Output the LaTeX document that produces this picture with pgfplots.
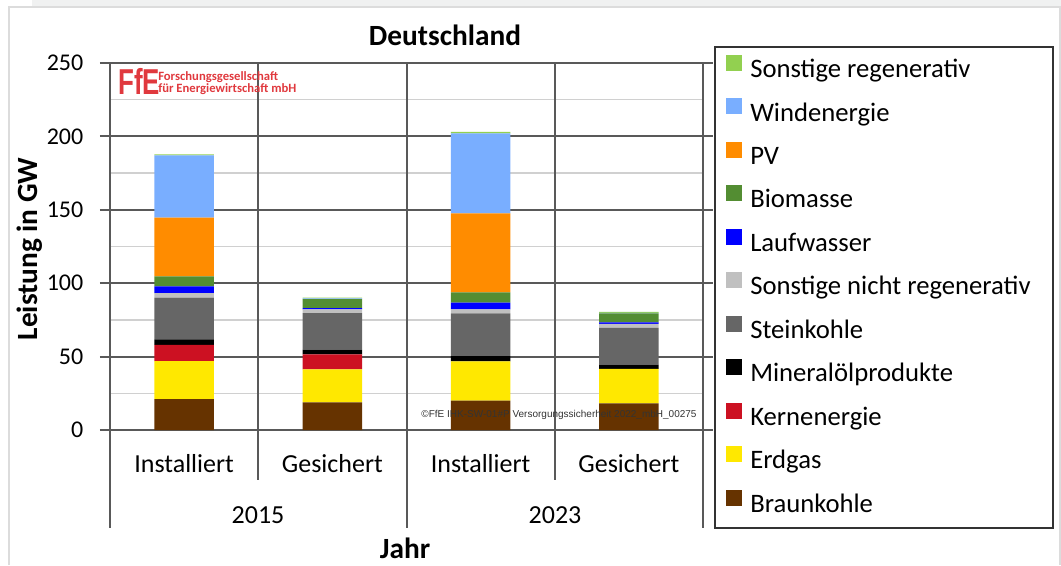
\documentclass[border=0pt]{standalone}
\usepackage{pgfplots}
\pgfplotsset{compat=1.18}
\usepackage{pgfplotstable}
\usepackage{fontspec}
\setmainfont{Carlito}
\newfontfamily\arial{Liberation Sans}

\definecolor{cSonstReg}{HTML}{92D050}
\definecolor{cWind}{HTML}{79AEFF}
\definecolor{cPV}{HTML}{FF8C00}
\definecolor{cBio}{HTML}{538D32}
\definecolor{cLauf}{HTML}{0000FF}
\definecolor{cSonstNicht}{HTML}{C0C0C0}
\definecolor{cStein}{HTML}{666666}
\definecolor{cMineral}{HTML}{000000}
\definecolor{cKern}{HTML}{CC1122}
\definecolor{cErdgas}{HTML}{FFE800}
\definecolor{cBraun}{HTML}{663300}
\definecolor{linegray}{HTML}{595959}
\definecolor{minorgray}{HTML}{D0D0D0}
\definecolor{framegray}{HTML}{DCDCDC}
\definecolor{stripgray}{HTML}{F0F1F1}
\definecolor{ffered}{HTML}{E0393E}

% x: 0 = 2015 installiert, 1 = 2015 gesichert, 2 = 2023 installiert, 3 = 2023 gesichert
\pgfplotstableread{
x braun erdgas kern mineral stein sonstnicht lauf bio pv wind sonstreg
0 21.0 26.0 11.0 3.7 28.4 3.2 4.6 6.7 40.0 42.4 0.8
1 18.8 22.5 10.3 3.2 24.8 2.5 0.9 6.2 0.0 0.5 0.4
2 20.0 26.8 0.0 3.6 29.1 2.7 4.5 7.0 53.9 54.5 1.0
3 18.2 23.4 0.0 3.0 25.0 2.7 1.1 6.1 0.0 0.3 0.7
}\leistung

\pgfplotsset{sq/.style={fill=#1, draw=none,
  legend image code/.code={\fill[#1] (0pt,0pt) rectangle (12pt,12pt);}}}

\begin{document}
\begin{tikzpicture}
% 1 px of the reference = 0.75pt, axis lower left corner at (0,0)
\path[use as bounding box] (-82.5pt,-101.25pt) rectangle (713.25pt,322.5pt);
\fill[stripgray] (-58.5pt,318pt) rectangle (713.25pt,322.5pt);
\draw[framegray, line width=1.1pt] (-75.75pt,-101.25pt) -- (-75.75pt,317.25pt) -- (712.5pt,317.25pt) -- (712.5pt,-101.25pt);

\begin{axis}[
    at={(0pt,0pt)}, anchor=south west,
    scale only axis, width=444.75pt, height=275.25pt,
    ybar stacked, bar width=0.4,
    clip=false,
    xmin=-0.5, xmax=3.5, ymin=0, ymax=250,
    xtick={0,1,2,3},
    xticklabels={Installiert,Gesichert,Installiert,Gesichert},
    xtick style={draw=none},
    xticklabel style={font=\fontsize{19.5pt}{22pt}\selectfont, anchor=base, yshift=-24.5pt},
    ytick={0,50,...,250}, minor y tick num=1,
    tick align=outside, major tick length=7.5pt, minor tick length=0pt,
    ytick style={line width=1.5pt, color=linegray},
    yticklabel style={font=\fontsize{18pt}{21pt}\selectfont, xshift=-9pt},
    /pgf/number format/assume math mode=true,
    ymajorgrids, yminorgrids,
    major grid style={line width=1.5pt, color=linegray},
    minor grid style={line width=1.1pt, color=minorgray},
    axis line style={line width=1.5pt, color=linegray},
    reverse legend,
    legend cell align=left,
    legend style={at={(1,1)}, anchor=north west, xshift=17.25pt, yshift=6.3pt,
        draw=none, fill=none, inner sep=0pt, row sep=10.6pt, column sep=6pt,
        font=\fontsize{20pt}{24pt}\selectfont,
        nodes={inner sep=0pt, text height=15pt, text depth=5pt}},
]
\addplot[sq=cBraun] table[x=x, y=braun] {\leistung};
\addplot[sq=cErdgas] table[x=x, y=erdgas] {\leistung};
\addplot[sq=cKern] table[x=x, y=kern] {\leistung};
\addplot[sq=cMineral] table[x=x, y=mineral] {\leistung};
\addplot[sq=cStein] table[x=x, y=stein] {\leistung};
\addplot[sq=cSonstNicht] table[x=x, y=sonstnicht] {\leistung};
\addplot[sq=cLauf] table[x=x, y=lauf] {\leistung};
\addplot[sq=cBio] table[x=x, y=bio] {\leistung};
\addplot[sq=cPV] table[x=x, y=pv] {\leistung};
\addplot[sq=cWind] table[x=x, y=wind] {\leistung};
\addplot[sq=cSonstReg] table[x=x, y=sonstreg] {\leistung};
\legend{Braunkohle,Erdgas,Kernenergie,Mineralölprodukte,Steinkohle,Sonstige nicht regenerativ,Laufwasser,Biomasse,PV,Windenergie,Sonstige regenerativ}
\end{axis}

% category separators (axis: 0.5 -> 111pt, 1.5 -> 222pt, 2.5 -> 333.75pt)
\begin{scope}[line width=1.5pt, color=linegray]
\draw (111pt,275.25pt) -- (111pt,-37.5pt);
\draw (222.4pt,275.25pt) -- (222.4pt,-73.5pt);
\draw (333.6pt,275.25pt) -- (333.6pt,-37.5pt);
\draw (0pt,0pt) -- (0pt,-73.5pt);
\draw (444.75pt,0pt) -- (444.75pt,-73.5pt);
\end{scope}

\node[font=\arial\fontsize{7.5pt}{9pt}\selectfont, color=black!80] at (336.75pt,11.25pt)
  {©FfE IHK-SW-01\#P Versorgungssicherheit 2022\_mbH\_00275};

% logo
\node[anchor=base west, inner sep=0pt, color=ffered, font=\arial\bfseries\fontsize{27pt}{28pt}\selectfont]
  at (6pt,251.25pt) {\scalebox{0.72}[1]{FfE}};
\node[anchor=base west, inner sep=0pt, color=ffered, font=\bfseries\fontsize{9.5pt}{11pt}\selectfont]
  at (36pt,261.75pt) {Forschungsgesellschaft};
\node[anchor=base west, inner sep=0pt, color=ffered, font=\bfseries\fontsize{9.5pt}{11pt}\selectfont]
  at (36pt,252.75pt) {für Energiewirtschaft mbH};

% titles
\node[anchor=base, font=\bfseries\fontsize{22pt}{26pt}\selectfont] at (251.25pt,288.4pt) {Deutschland};
\node[rotate=90, font=\bfseries\fontsize{22pt}{26pt}\selectfont] at (-60pt,135.75pt) {Leistung in GW};
\node[anchor=base, font=\bfseries\fontsize{22pt}{26pt}\selectfont] at (221.25pt,-96pt) {Jahr};
\node[anchor=base, font=\fontsize{19.5pt}{22pt}\selectfont] at (111pt,-69.75pt) {2015};
\node[anchor=base, font=\fontsize{19.5pt}{22pt}\selectfont] at (333.75pt,-69.75pt) {2023};

% legend frame
\draw[line width=1.1pt, color=black!80] (453.75pt,287.25pt) rectangle (707.25pt,-73.5pt);
\end{tikzpicture}
\end{document}
